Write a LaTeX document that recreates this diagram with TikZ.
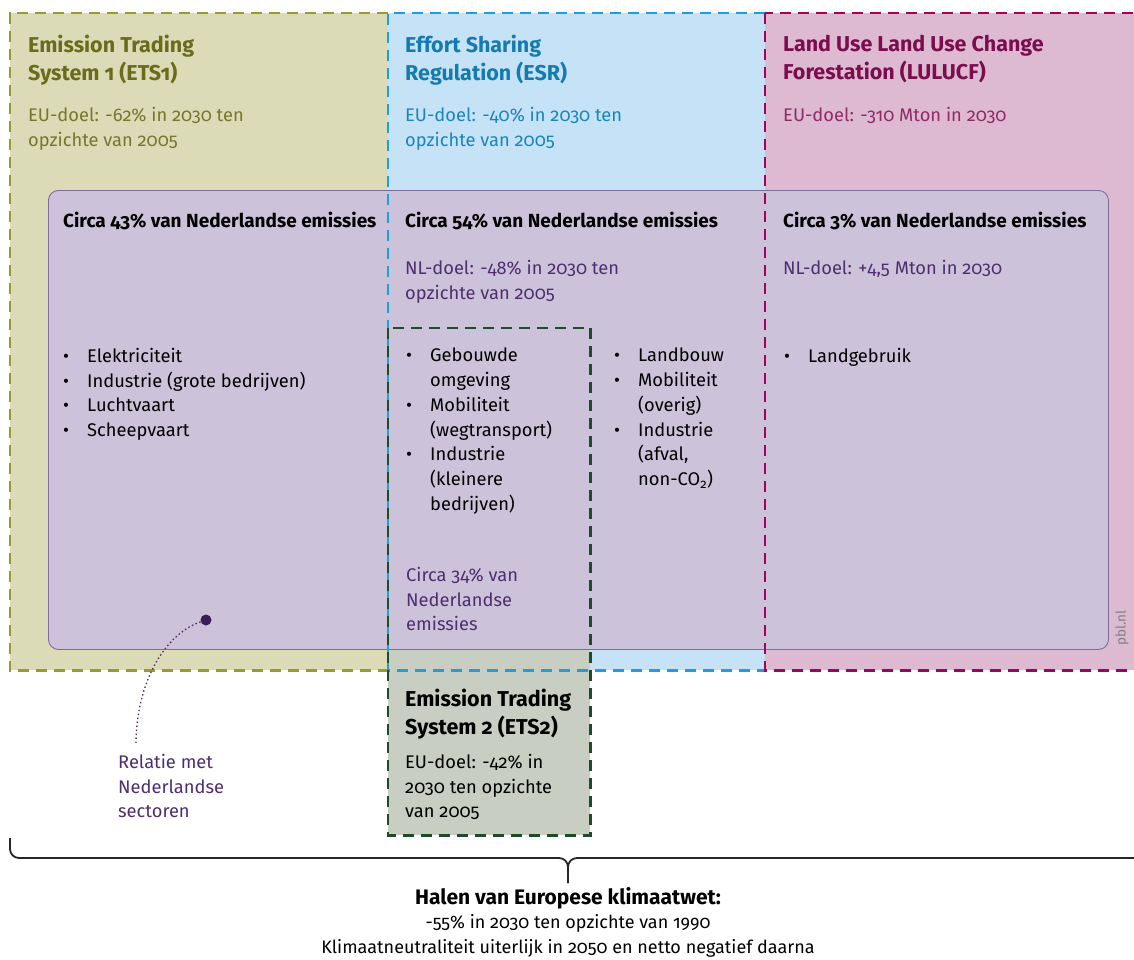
\documentclass[tikz,border=0pt]{standalone}
\usepackage{fontspec}
\setmainfont{Fira Sans}[Numbers=OldStyle]
\usetikzlibrary{positioning,calc}

\definecolor{olivefill}{HTML}{DBDBB7}
\definecolor{olivedash}{HTML}{9A9A2E}
\definecolor{olivetitle}{HTML}{6B6B1C}
\definecolor{olivetext}{HTML}{76762C}
\definecolor{bluefill}{HTML}{C6E2F7}
\definecolor{bluedash}{HTML}{1C9FE0}
\definecolor{bluetitle}{HTML}{137BAE}
\definecolor{bluetext}{HTML}{1A84BB}
\definecolor{pinkfill}{HTML}{DDBAD1}
\definecolor{pinkdash}{HTML}{A4005F}
\definecolor{pinktitle}{HTML}{7B0D4F}
\definecolor{pinktext}{HTML}{8E2A66}
\definecolor{nlfill}{HTML}{CCC3DA}
\definecolor{nldraw}{HTML}{7E6C9B}
\definecolor{etsfill}{HTML}{C8CFC2}
\definecolor{etsdash}{HTML}{1E4B29}
\definecolor{nltext}{HTML}{4E2E6E}
\definecolor{dotcol}{HTML}{3A1D5A}

\newcommand{\itm}[1]{\makebox[24pt][l]{\textbullet}#1}
\newcommand{\cnt}[1]{\hspace*{24pt}#1}

\tikzset{
  zone/.style={rectangle, draw=none, inner sep=0, anchor=north west},
  dashline/.style={line width=2.6pt, dash pattern=on 11pt off 7pt},
  boxtitle/.style={anchor=north west, align=left, inner sep=0, font=\fontsize{21.5}{28}\selectfont\bfseries},
  boxtext/.style={anchor=north west, align=left, inner sep=0, font=\fontsize{18.3}{24.7}\selectfont},
  share/.style={boxtext, font=\fontsize{19}{24.7}\selectfont\bfseries},
}

\begin{document}
\begin{tikzpicture}[x=1pt, y=-1pt]
        \useasboundingbox (0,0) rectangle (1134,960);

        % Zones of the EU regulation
        \node (ets1) [zone, fill=olivefill, minimum width=378pt, minimum height=657pt] at (10,13) {};
        \node (esr) [zone, fill=bluefill, minimum width=377pt, minimum height=657pt] at (388,13) {};
        \node (lulucf) [zone, fill=pinkfill, minimum width=390pt, minimum height=657pt] at (765,13) {};
        \node (ets2) [zone, fill=etsfill, minimum width=202pt, minimum height=507pt] at (388,328) {};

        % Dutch emissions
        \node (nl) [zone, fill=nlfill, draw=nldraw, line width=0.9pt, rounded corners=10pt,
            minimum width=1060pt, minimum height=459pt] at (48,190) {};

        % Dashed borders
        \draw[dashline, olivedash] (ets1.north east) -- (ets1.north west) -- (ets1.south west) -- (ets1.south east);
        \draw[dashline, bluedash] (esr.north east) -- (esr.north west) -- (esr.south west) -- (esr.south east);
        \draw[dashline, pinkdash] (lulucf.north west) rectangle (lulucf.south east);
        \draw[dashline, etsdash] (ets2.north west) rectangle (ets2.south east);

        % ETS1
        \node (ets1title) [boxtitle, text=olivetitle] at ($(ets1.north west)+(18,22)$) {Emission Trading\\System 1 (ETS1)};
        \node (ets1goal) [boxtext, text=olivetext] at ($(ets1.north west)+(18,94)$) {EU-doel: -62\% in 2030 ten\\opzichte van 2005};

        % ESR
        \node (esrtitle) [boxtitle, text=bluetitle] at ($(esr.north west)+(17,22)$) {Effort Sharing\\Regulation (ESR)};
        \node (esrgoal) [boxtext, text=bluetext] at ($(esr.north west)+(17,94)$) {EU-doel: -40\% in 2030 ten\\opzichte van 2005};

        % LULUCF
        \node (lulucftitle) [boxtitle, text=pinktitle] at ($(lulucf.north west)+(18,22)$) {Land Use Land Use Change\\Forestation (LULUCF)};
        \node (lulucfgoal) [boxtext, text=pinktext] at ($(lulucf.north west)+(18,94)$) {EU-doel: -310 Mton in 2030};

        % Shares of Dutch emissions
        \node (share1) [share] at (63,212) {Circa 43\% van Nederlandse emissies};
        \node (share2) [share] at (405,212) {Circa 54\% van Nederlandse emissies};
        \node (share3) [share] at (783,212) {Circa 3\% van Nederlandse emissies};
        \node (nlgoal2) [boxtext, text=nltext] at (405,260) {NL-doel: -48\% in 2030 ten\\opzichte van 2005};
        \node (nlgoal3) [boxtext, text=nltext] at (783,260) {NL-doel: +4,5 Mton in 2030};

        % Sectors
        \node (sect1) [boxtext] at (63,348) {\itm{Elektriciteit}\\\itm{Industrie (grote bedrijven)}\\\itm{Luchtvaart}\\\itm{Scheepvaart}};
        \node (sect2) [boxtext] at (406,348) {\itm{Gebouwde}\\\cnt{omgeving}\\\itm{Mobiliteit}\\\cnt{(wegtransport)}\\\itm{Industrie}\\\cnt{(kleinere}\\\cnt{bedrijven)}};
        \node (sect3) [boxtext] at (614,348) {\itm{Landbouw}\\\itm{Mobiliteit}\\\cnt{(overig)}\\\itm{Industrie}\\\cnt{(afval,}\\\cnt{non-CO\textsubscript{2})}};
        \node (sect4) [boxtext] at (784,348) {\itm{Landgebruik}};
        \node (share34) [boxtext, text=nltext] at (406,567) {Circa 34\% van\\Nederlandse\\emissies};
        \node (source) [rotate=90, text=gray, font=\fontsize{13.5}{13.5}\selectfont] at (1122,628) {pbl.nl};

        % ETS2
        \node (ets2title) [boxtitle, text=black] at ($(ets2.north west)+(17,361)$) {Emission Trading\\System 2 (ETS2)};
        \node (ets2goal) [boxtext] at ($(ets2.north west)+(17,426)$) {EU-doel: -42\% in\\2030 ten opzichte\\van 2005};

        % Legend for the inner box
        \node (dot) [circle, fill=dotcol, inner sep=0, minimum size=11pt] at (206,620) {};
        \node (legend) [boxtext, text=nltext] at (118,754) {Relatie met\\Nederlandse\\sectoren};
        \coordinate (legendtop) at (136,745);
        \draw[nltext, line width=1.3pt, dash pattern=on 1.5pt off 2.5pt] (dot) .. controls (165,634) and (136,682) .. (legendtop);

        % Brace and EU climate law
        \coordinate (braceleft) at (10,838);
        \coordinate (braceright) at (1160,858);
        \coordinate (bracemid) at (568,858);
        \coordinate (bracetip) at (568,883);
        \draw[line width=1.8pt, black!85, rounded corners=9pt] (braceleft) |- (bracemid) -- (bracetip);
        \draw[line width=1.8pt, black!85, rounded corners=9pt] (braceright) -- (bracemid) -- (bracetip);
        \node (climatelaw) [anchor=north, align=center, inner sep=0, font=\fontsize{18}{24.5}\selectfont] at (568,887)
            {{\fontsize{21}{24.5}\selectfont\bfseries Halen van Europese klimaatwet:}\\-55\% in 2030 ten opzichte van 1990\\Klimaatneutraliteit uiterlijk in 2050 en netto negatief daarna};
    \end{tikzpicture}
\end{document}
